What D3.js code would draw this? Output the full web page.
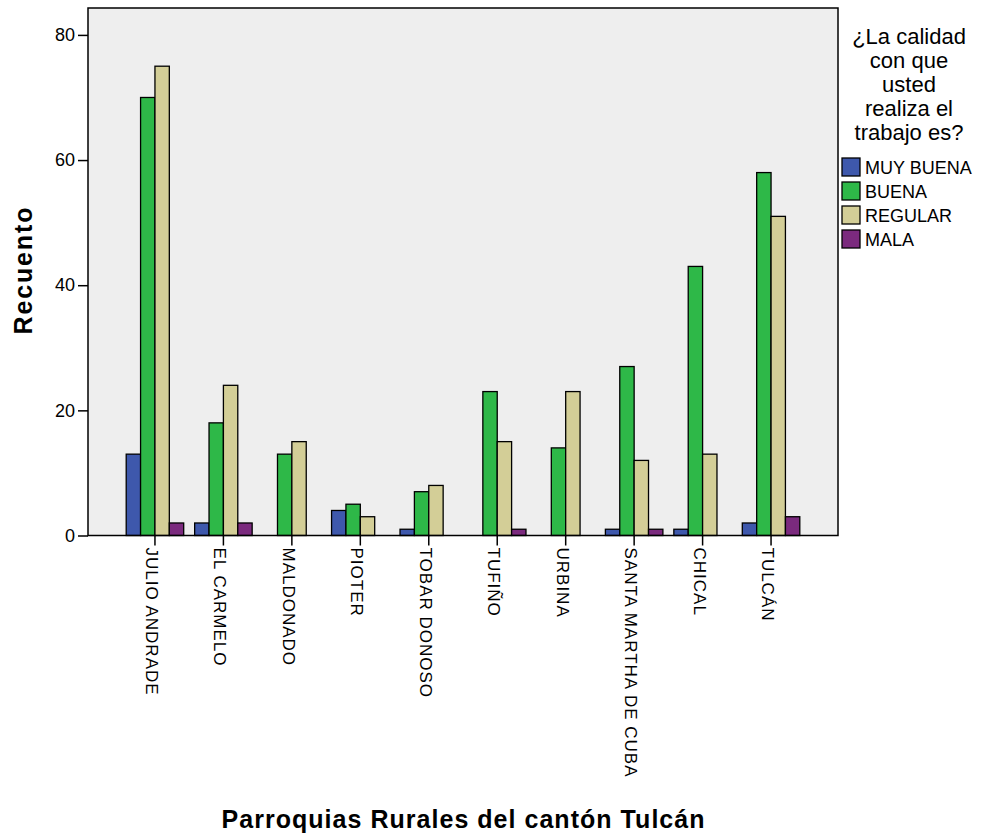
<!DOCTYPE html>
<html><head><meta charset="utf-8">
<script src="https://cdn.jsdelivr.net/npm/d3@7/dist/d3.min.js"></script>
<style>
body{margin:0;background:#fff;}
text{font-family:"Liberation Sans",Arial,sans-serif;fill:#000;}
</style></head>
<body><svg id="chart" width="981" height="833"></svg>
<script>
const categories = ["JULIO ANDRADE","EL CARMELO","MALDONADO","PIOTER","TOBAR DONOSO","TUFIÑO","URBINA","SANTA MARTHA DE CUBA","CHICAL","TULCÁN"];
const seriesNames = ["MUY BUENA","BUENA","REGULAR","MALA"];
const muyBuena = [13,2,0,4,1,0,0,1,1,2];
const buena    = [70,18,13,5,7,23,14,27,43,58];
const regular  = [75,24,15,3,8,15,23,12,13,51];
const mala     = [2,2,0,0,0,1,0,1,0,3];
const yTicks = [0,20,40,60,80];
const colors = ["#3e58ac","#2eb848","#d3ce97","#7b2a7e"];
const legendTitle = ["¿La calidad","con que","usted","realiza el","trabajo es?"];
const xTitle = "Parroquias Rurales del cantón Tulcán";
const yTitle = "Recuento";

const series = [muyBuena, buena, regular, mala];
const svg = d3.select("#chart");
const L = 88, R = 838, T = 8, B = 535.5;

const x0 = d3.scaleBand().domain(categories).range([L,R]).paddingInner(0.16).paddingOuter(0.558);
const x1 = d3.scaleBand().domain(seriesNames).range([0, x0.bandwidth()]);
const y = d3.scaleLinear().domain([0,84.3]).range([B,T]);

svg.append("rect").attr("x",L).attr("y",T).attr("width",R-L).attr("height",B-T)
  .attr("fill","#eeeeee");

const g = svg.selectAll("g.grp").data(categories).join("g").attr("class","grp")
  .attr("transform",d=>`translate(${x0(d)},0)`);
g.selectAll("rect").data((d,i)=>seriesNames.map((s,j)=>({s,j,v:series[j][i]})).filter(e=>e.v>0))
  .join("rect")
  .attr("x",e=>x1(e.s)).attr("width",x1.bandwidth())
  .attr("y",e=>y(e.v)).attr("height",e=>B-y(e.v))
  .attr("fill",e=>colors[e.j]).attr("stroke","#000").attr("stroke-width",1.3);

// frame
svg.append("rect").attr("x",L).attr("y",T).attr("width",R-L).attr("height",B-T)
  .attr("fill","none").attr("stroke","#000").attr("stroke-width",1.5);

// y axis
const ya = svg.append("g").attr("transform",`translate(${L},0)`)
  .call(d3.axisLeft(y).tickValues(yTicks).tickSize(10).tickPadding(3).tickFormat(d3.format("d")));
ya.select(".domain").remove();
ya.selectAll("line").attr("stroke","#000").attr("stroke-width",1.5);
ya.selectAll("text").attr("font-size","18px").attr("font-family","Liberation Sans, Arial");

// x axis
const xa = svg.append("g").attr("transform",`translate(0,${B})`)
  .call(d3.axisBottom(x0).tickSize(10).tickSizeOuter(0));
xa.select(".domain").remove();
xa.selectAll("line").attr("stroke","#000").attr("stroke-width",1.5);
xa.selectAll("text")
  .attr("font-size","17px").attr("font-family","Liberation Sans, Arial")
  .attr("letter-spacing","1px")
  .attr("text-anchor","start")
  .attr("transform","translate(0,12) rotate(90)")
  .attr("x",0).attr("y",0).attr("dy","9px");

// titles
svg.append("text").attr("x",463).attr("y",828).attr("text-anchor","middle")
  .attr("font-size","25px").attr("font-weight","bold")
  .attr("textLength",483).attr("lengthAdjust","spacing").text(xTitle);
svg.append("text").attr("transform","translate(32,271) rotate(-90)").attr("text-anchor","middle")
  .attr("font-size","25px").attr("font-weight","bold")
  .attr("textLength",127).attr("lengthAdjust","spacing").text(yTitle);

// legend
svg.selectAll("text.lt").data(legendTitle).join("text").attr("class","lt")
  .attr("x",909).attr("y",(d,i)=>44+i*24).attr("text-anchor","middle")
  .attr("font-size","22px").text(d=>d);
const lg = svg.selectAll("g.li").data(seriesNames).join("g").attr("class","li")
  .attr("transform",(d,i)=>`translate(842,${158+i*24})`);
lg.append("rect").attr("width",18).attr("height",18)
  .attr("fill",(d,i)=>colors[i]).attr("stroke","#000").attr("stroke-width",1.3);
lg.append("text").attr("x",23).attr("y",16).attr("font-size","18px")
  .text(d=>d);
</script></body></html>
